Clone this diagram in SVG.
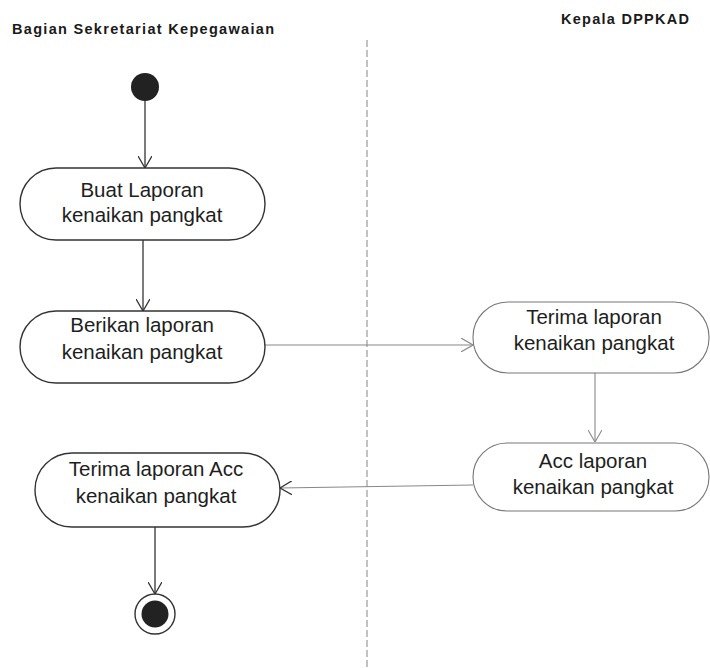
<svg xmlns="http://www.w3.org/2000/svg" width="710" height="668" viewBox="0 0 710 668">
  <style>
    .lane { font-family: "Liberation Sans", Arial, sans-serif; font-weight: bold; font-size: 14.5px; fill: #1a1a1a; }
    .label { font-family: "Liberation Sans", Arial, sans-serif; font-size: 20.5px; fill: #1e1e1e; text-anchor: middle; }
    .act { fill: #fff; stroke: #333; stroke-width: 1.4; }
    .act-r { fill: #fff; stroke: #777; stroke-width: 1.1; }
    .flow { fill: none; stroke: #333; stroke-width: 1.3; }
    .flow-r { fill: none; stroke: #888; stroke-width: 1.1; }
    .divider { stroke: #999; stroke-width: 1.2; stroke-dasharray: 7 3; }
  </style>
  <defs>
    <marker id="open" viewBox="0 0 12 14" refX="12" refY="7" markerWidth="12" markerHeight="14" markerUnits="userSpaceOnUse" orient="auto">
      <path d="M0,0 L12,7 L0,14" fill="none" stroke="#333" stroke-width="1.3"/>
    </marker>
    <marker id="open-r" viewBox="0 0 12 14" refX="12" refY="7" markerWidth="12" markerHeight="14" markerUnits="userSpaceOnUse" orient="auto">
      <path d="M0,0 L12,7 L0,14" fill="none" stroke="#888" stroke-width="1.1"/>
    </marker>
  </defs>

  <rect width="710" height="668" fill="#fff"/>

  <!-- swimlane headers and divider -->
  <g id="lanes">
    <text class="lane" x="12" y="34" textLength="262" lengthAdjust="spacing">Bagian Sekretariat Kepegawaian</text>
    <text class="lane" x="561" y="24" textLength="128" lengthAdjust="spacing">Kepala DPPKAD</text>
    <line class="divider" x1="367" y1="40" x2="367" y2="668"/>
  </g>

  <!-- connectors -->
  <g id="connectors">
    <line class="flow" x1="145" y1="101" x2="145" y2="168" marker-end="url(#open)"/>
    <line class="flow" x1="143" y1="240" x2="143" y2="311" marker-end="url(#open)"/>
    <line class="flow-r" x1="265" y1="345" x2="473" y2="345" marker-end="url(#open-r)"/>
    <line class="flow-r" x1="595" y1="373" x2="595" y2="442" marker-end="url(#open-r)"/>
    <line class="flow-r" x1="473" y1="485" x2="280" y2="488" marker-end="url(#open)"/>
    <line class="flow" x1="155" y1="527" x2="155" y2="594" marker-end="url(#open)"/>
  </g>

  <!-- start -->
  <g id="start">
    <circle cx="145" cy="87" r="14" fill="#222"/>
  </g>

  <g id="buat-laporan">
    <rect class="act" x="20" y="168" width="245" height="72" rx="36" ry="36"/>
    <text class="label" x="142" y="197">Buat Laporan</text>
    <text class="label" x="142" y="222">kenaikan pangkat</text>
  </g>

  <g id="berikan-laporan">
    <rect class="act" x="20" y="311" width="245" height="72" rx="36" ry="36"/>
    <text class="label" x="142" y="332">Berikan laporan</text>
    <text class="label" x="142" y="359">kenaikan pangkat</text>
  </g>

  <g id="terima-laporan">
    <rect class="act-r" x="473" y="302" width="236" height="71" rx="35" ry="35"/>
    <text class="label" x="594" y="324">Terima laporan</text>
    <text class="label" x="594" y="350">kenaikan pangkat</text>
  </g>

  <g id="acc-laporan">
    <rect class="act-r" x="473" y="443" width="236" height="68" rx="34" ry="34"/>
    <text class="label" x="593" y="468">Acc laporan</text>
    <text class="label" x="593" y="494">kenaikan pangkat</text>
  </g>

  <g id="terima-acc">
    <rect class="act" x="35" y="453" width="245" height="74" rx="37" ry="37"/>
    <text class="label" x="156" y="476">Terima laporan Acc</text>
    <text class="label" x="156" y="503">kenaikan pangkat</text>
  </g>

  <!-- end -->
  <g id="end">
    <circle cx="155" cy="614" r="20" fill="#fff" stroke="#333" stroke-width="1.4"/>
    <circle cx="155" cy="614" r="13.5" fill="#222"/>
  </g>
</svg>
